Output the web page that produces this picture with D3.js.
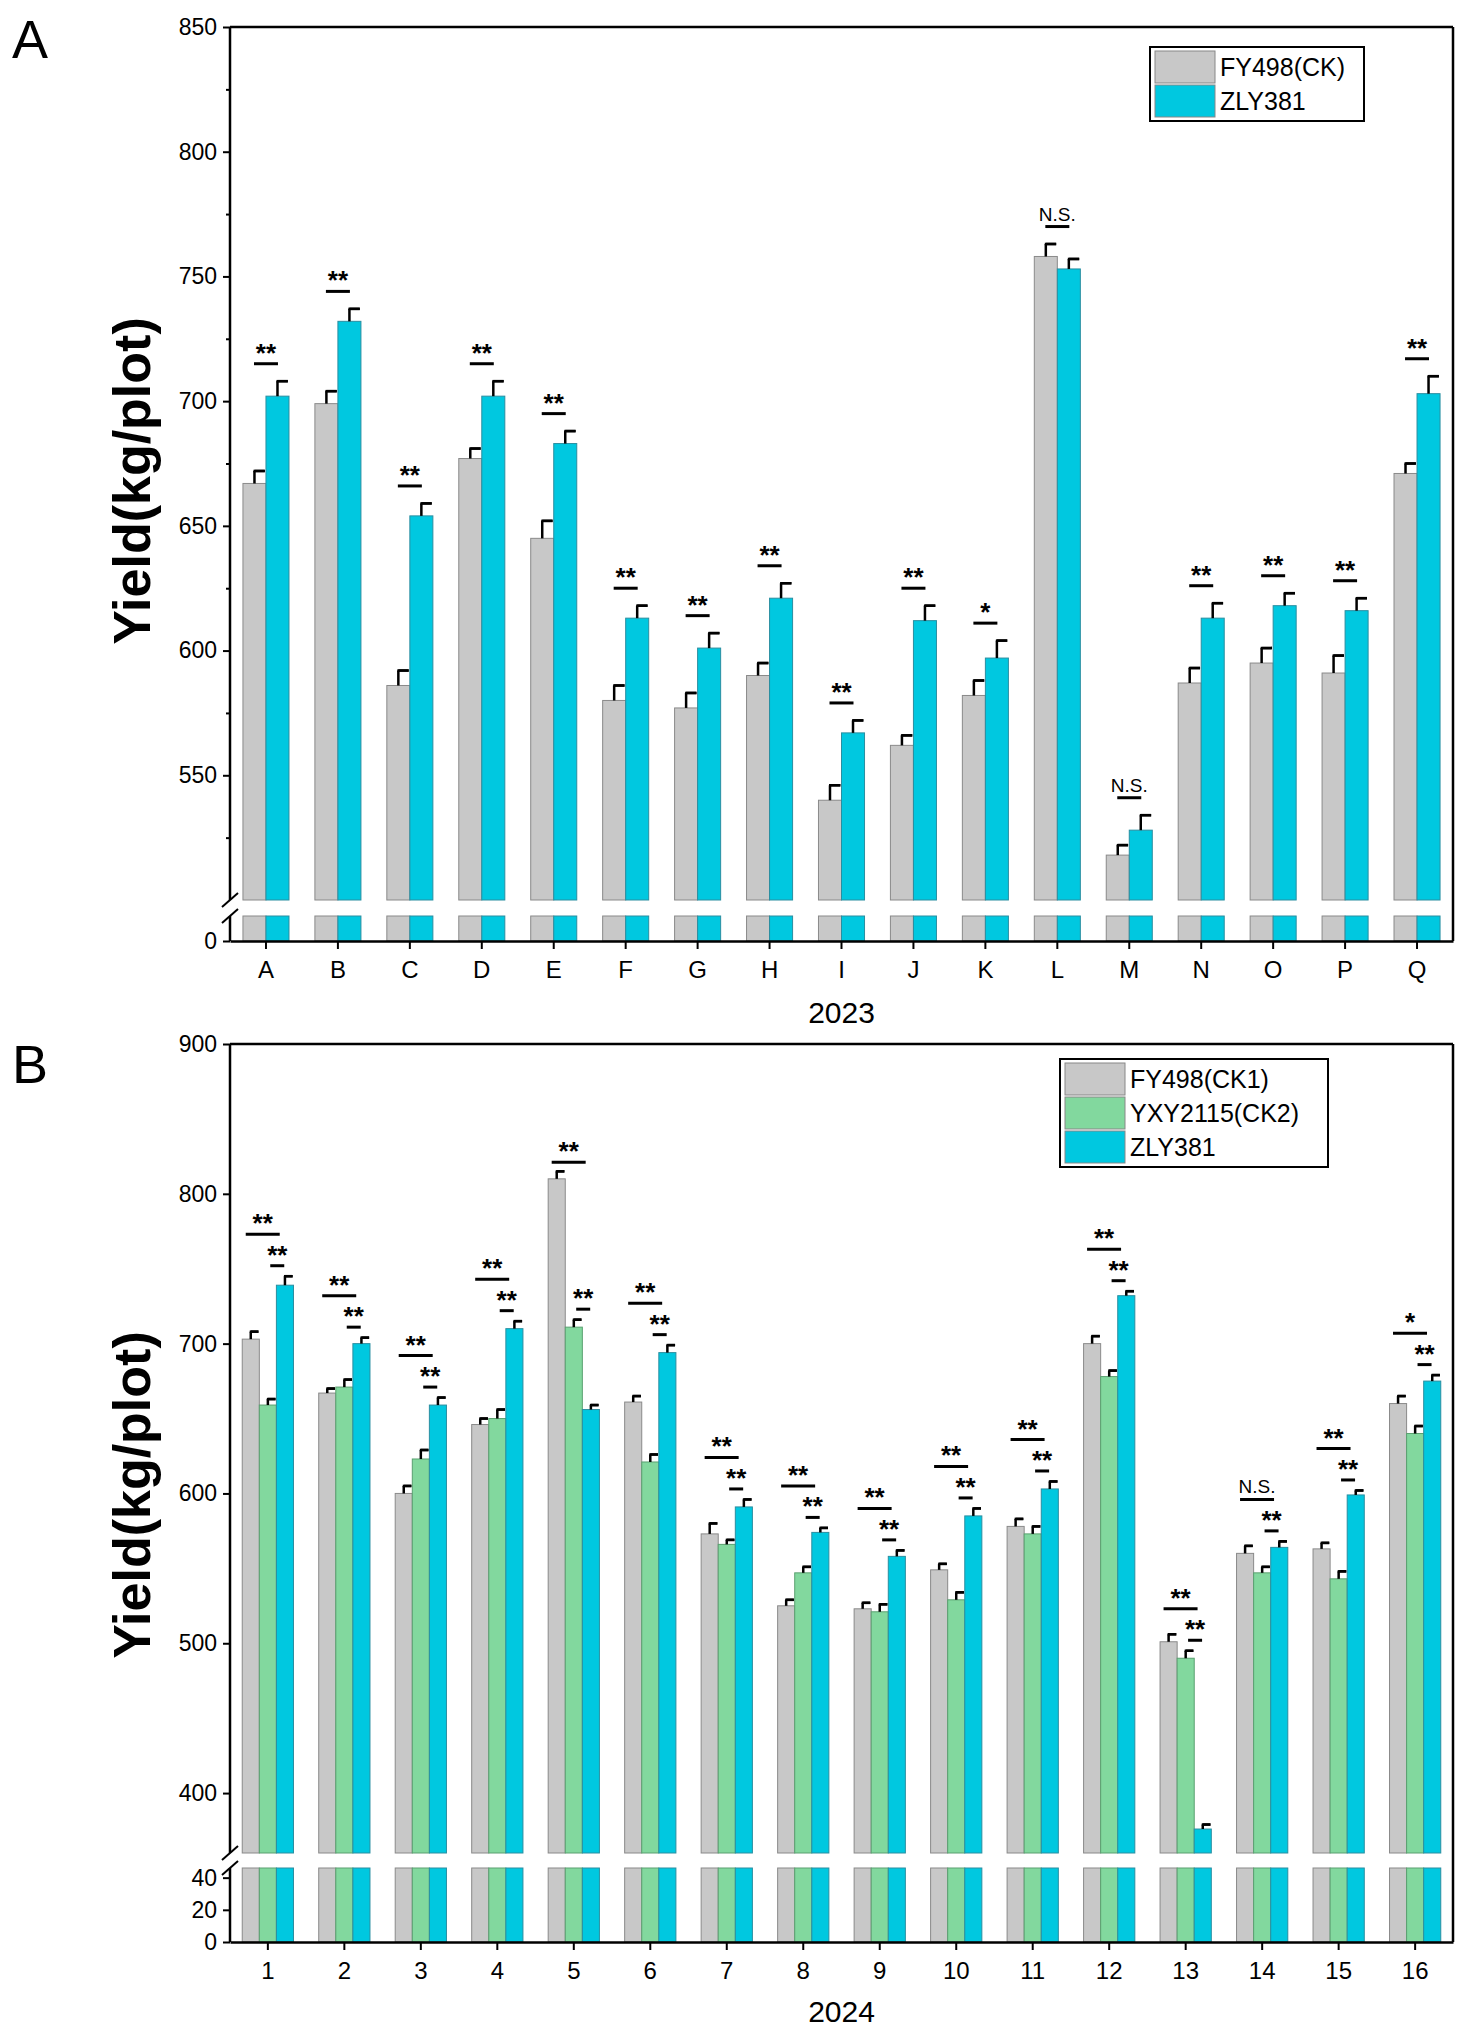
<!DOCTYPE html><html><head><meta charset="utf-8"><script src="https://cdn.jsdelivr.net/npm/d3@7"></script>
<style>body{margin:0;background:#fff}text{font-family:"Liberation Sans Narrow","Liberation Sans",Arial,sans-serif}</style></head><body><svg id="s" width="1469" height="2041"></svg>
<script>
const catsA=["A","B","C","D","E","F","G","H","I","J","K","L","M","N","O","P","Q"];
const ckA=[667,699,586,677,645,580,577,590,540,562,582,758,518,587,595,591,671];
const ckAerr=[5,5,6,4,7,6,6,5,6,4,6,5,4,6,6,7,4];
const zlyA=[702,732,654,702,683,613,601,621,567,612,597,753,528,613,618,616,703];
const zlyAerr=[6,5,5,6,5,5,6,6,5,6,7,4,6,6,5,5,7];
const sigA=["**","**","**","**","**","**","**","**","**","**","*","N.S.","N.S.","**","**","**","**"];
const yTicksA=[550,600,650,700,750,800,850];
const catsB=["1","2","3","4","5","6","7","8","9","10","11","12","13","14","15","16"];
const ck1B=[703,667,600,646,810,661,573,525,523,549,578,700,501,560,563,660];
const ck1Berr=[5,3,5,4,5,4,7,4,4,4,5,5,5,5,4,5];
const ck2B=[659,671,623,650,711,621,566,547,521,529,573,678,490,547,543,640];
const ck2Berr=[4,5,6,6,5,5,3,4,5,5,5,4,5,4,5,5];
const zlyB=[739,700,659,710,656,694,591,574,558,585,603,732,376,564,599,675];
const zlyBerr=[6,4,5,5,3,5,5,3,4,5,5,3,3,4,3,4];
const sigB1=["**","**","**","**","**","**","**","**","**","**","**","**","**","N.S.","**","*"];
const sigB2=["**","**","**","**","**","**","**","**","**","**","**","**","**","**","**","**"];
const yTicksB=[400,500,600,700,800,900];
const colGray="#c8c8c8",colCyan="#00c8e0",colGreen="#82d89e";
const svg=d3.select("#s");
const L=230,R=1453;

function panel(o){
  const g=svg.append("g");
  const x=d3.scaleBand().domain(o.cats).range([L,R]).paddingInner(o.pin).paddingOuter(o.pout);
  const xs=d3.scaleBand().domain(d3.range(o.series.length)).range([0,x.bandwidth()]);
  const yU=d3.scaleLinear().domain(o.uDom).range(o.uRange);
  const yL=d3.scaleLinear().domain(o.lDom).range(o.lRange);
  o.series.forEach((s,si)=>{
    o.cats.forEach((c,i)=>{
      const bx=x(c)+xs(si),w=xs.bandwidth();
      // lower segment
      g.append("rect").attr("x",bx).attr("y",yL(o.lDom[1])).attr("width",w).attr("height",yL(0)-yL(o.lDom[1])).attr("fill",s.color).attr("stroke",s.stroke).attr("stroke-width",1);
      const v=s.vals[i],e=s.err[i];
      g.append("rect").attr("x",bx).attr("y",yU(v)).attr("width",w).attr("height",yU(o.uDom[0])-yU(v)).attr("fill",s.color).attr("stroke",s.stroke).attr("stroke-width",1);
      const cx=bx+w/2;
      g.append("line").attr("x1",cx).attr("x2",cx).attr("y1",yU(v)).attr("y2",yU(v+e)).attr("stroke","#000").attr("stroke-width",2.5);
      g.append("line").attr("x1",cx).attr("x2",cx+w*0.45).attr("y1",yU(v+e)).attr("y2",yU(v+e)).attr("stroke","#000").attr("stroke-width",2.5);
      g.append("line").attr("x1",cx-1).attr("x2",cx+w*0.45).attr("y1",yU(v+e)).attr("y2",yU(v+e)).attr("stroke","#000").attr("stroke-width",2.5);
    });
  });
  o.annot(g,x,xs,yU);
  // axes
  const ax=g.append("g").attr("transform",`translate(${L},0)`);
  const aU=d3.axisLeft(yU).tickValues(o.uTicks).tickSize(7).tickSizeOuter(0);
  ax.append("g").call(aU).call(a=>{a.select(".domain").remove();a.selectAll("text").attr("font-size",23).attr("dx",-3);a.selectAll("line").attr("stroke-width",2);});
  if(o.minor){ax.append("g").call(d3.axisLeft(yU).tickValues(o.minor).tickSize(4).tickFormat("")).call(a=>{a.select(".domain").remove();a.selectAll("line").attr("stroke-width",2);});}
  ax.append("g").call(d3.axisLeft(yL).tickValues(o.lTicks).tickSize(7).tickSizeOuter(0)).call(a=>{a.select(".domain").remove();a.selectAll("text").attr("font-size",23).attr("dx",-3);a.selectAll("line").attr("stroke-width",2);});
  // axis lines
  g.append("line").attr("x1",L).attr("x2",L).attr("y1",o.uRange[1]).attr("y2",o.uRange[0]).attr("stroke","#000").attr("stroke-width",2.5);
  g.append("line").attr("x1",L).attr("x2",L).attr("y1",o.lRange[1]).attr("y2",o.lRange[0]).attr("stroke","#000").attr("stroke-width",2.5);
  g.append("line").attr("x1",R).attr("x2",R).attr("y1",o.uRange[1]).attr("y2",o.lRange[0]).attr("stroke","#000").attr("stroke-width",2.5);
  g.append("line").attr("x1",L).attr("x2",R).attr("y1",o.uRange[1]).attr("y2",o.uRange[1]).attr("stroke","#000").attr("stroke-width",2.5);
  [o.uRange[0],o.lRange[1]].forEach(yy=>g.append("line").attr("x1",L-8).attr("x2",L+8).attr("y1",yy+7).attr("y2",yy-7).attr("stroke","#000").attr("stroke-width",2));
  const bx=g.append("g").attr("transform",`translate(0,${o.lRange[0]})`).call(d3.axisBottom(x).tickSize(8).tickSizeOuter(0));
  bx.select(".domain").attr("stroke-width",2.5);bx.selectAll("line").attr("stroke-width",2);
  bx.selectAll("text").attr("font-size",24).attr("dy","1.1em");
  g.append("text").attr("x",(L+R)/2).attr("y",o.yearY).attr("text-anchor","middle").attr("font-size",30).text(o.year);
  g.append("text").attr("transform",`translate(150,${o.labelY}) rotate(-90)`).attr("text-anchor","middle").attr("font-size",52).attr("font-weight","bold").style("font-family","Liberation Sans,Arial,sans-serif").text("Yield(kg/plot)");
  g.append("text").attr("x",12).attr("y",o.letterY).attr("font-size",54).style("font-family","Liberation Sans,Arial,sans-serif").text(o.letter);
  // legend
  const lg=g.append("g").attr("transform",`translate(${o.leg[0]},${o.leg[1]})`);
  lg.append("rect").attr("width",o.leg[2]).attr("height",o.series.length*34+6).attr("fill","#fff").attr("stroke","#000").attr("stroke-width",2);
  o.series.forEach((s,i)=>{
    lg.append("rect").attr("x",5).attr("y",4+i*34).attr("width",60).attr("height",32).attr("fill",s.color).attr("stroke","#888");
    lg.append("text").attr("x",70).attr("y",29+i*34).attr("font-size",25).text(s.name);
  });
}

panel({cats:catsA,pin:0.36,pout:0.18,uDom:[500,850],uRange:[900,27],lDom:[0,10],lRange:[941,916],
  uTicks:yTicksA,lTicks:[0],minor:[525,575,625,675,725,775,825],
  series:[{name:"FY498(CK)",vals:ckA,err:ckAerr,color:colGray,stroke:"#8a8a8a"},{name:"ZLY381",vals:zlyA,err:zlyAerr,color:colCyan,stroke:"#2a8ea0"}],
  annot:(g,x,xs,y)=>{catsA.forEach((c,i)=>{const cx=x(c)+x.bandwidth()/2;const yy=y(Math.max(ckA[i]+ckAerr[i],zlyA[i]+zlyAerr[i])+7);
    g.append("line").attr("x1",cx-12).attr("x2",cx+12).attr("y1",yy).attr("y2",yy).attr("stroke","#000").attr("stroke-width",3);
    g.append("text").attr("x",cx).attr("y",yy-(sigA[i]==="N.S."?6:2)).attr("text-anchor","middle").attr("font-size",sigA[i]==="N.S."?19:26).attr("font-weight",sigA[i]==="N.S."?"normal":"bold").text(sigA[i]);});},
  year:"2023",yearY:1023,labelY:481,letter:"A",letterY:58,leg:[1150,47,214]});

panel({cats:catsB,pin:0.33,pout:0.16,uDom:[360,900],uRange:[1853,1044],lDom:[0,46],lRange:[1942,1868],
  uTicks:yTicksB,lTicks:[0,20,40],minor:null,
  series:[{name:"FY498(CK1)",vals:ck1B,err:ck1Berr,color:colGray,stroke:"#8a8a8a"},{name:"YXY2115(CK2)",vals:ck2B,err:ck2Berr,color:colGreen,stroke:"#5aa070"},{name:"ZLY381",vals:zlyB,err:zlyBerr,color:colCyan,stroke:"#2a8ea0"}],
  annot:(g,x,xs,y)=>{catsB.forEach((c,i)=>{const b=x(c),w=xs.bandwidth();
    const low=Math.max(ck2B[i]+ck2Berr[i],zlyB[i]+zlyBerr[i])+7;
    const up=Math.max(ck1B[i]+ck1Berr[i]+6,low+21);
    const c1=b+w*1.2,c2=b+w*2.05;
    g.append("line").attr("x1",c1-17).attr("x2",c1+17).attr("y1",y(up)).attr("y2",y(up)).attr("stroke","#000").attr("stroke-width",3);
    g.append("text").attr("x",c1).attr("y",y(up)-(sigB1[i]==="N.S."?6:2)).attr("text-anchor","middle").attr("font-size",sigB1[i]==="N.S."?19:26).attr("font-weight",sigB1[i]==="N.S."?"normal":"bold").text(sigB1[i]);
    g.append("line").attr("x1",c2-7).attr("x2",c2+7).attr("y1",y(low)).attr("y2",y(low)).attr("stroke","#000").attr("stroke-width",3);
    g.append("text").attr("x",c2).attr("y",y(low)-2).attr("text-anchor","middle").attr("font-size",26).attr("font-weight","bold").text(sigB2[i]);});},
  year:"2024",yearY:2022,labelY:1495,letter:"B",letterY:1083,leg:[1060,1059,268]});
</script></body></html>
